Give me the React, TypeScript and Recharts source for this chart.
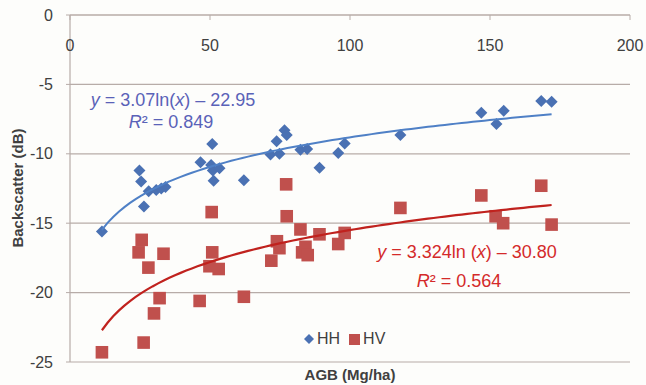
import React from 'react';
import { ComposedChart, Scatter, XAxis, YAxis, CartesianGrid, Legend, Customized } from 'recharts';

// ---- data ----
const hhAgb = [11.4, 24.8, 25.4, 26.4, 28.1, 30.8, 32.6, 34.1, 46.6, 50.8, 50.4, 51.0, 53.4, 51.3, 62.1, 71.6, 73.8, 74.8, 76.6, 77.4, 82.3, 84.7, 89.1, 95.8, 98.1, 118.0, 146.9, 152.3, 154.9, 168.3, 172.0];
const hhBackscatter = [-15.6, -11.2, -12.0, -13.8, -12.7, -12.6, -12.5, -12.4, -10.6, -9.3, -10.8, -11.2, -11.05, -11.95, -11.9, -10.05, -9.1, -10.0, -8.3, -8.65, -9.7, -9.65, -11.0, -9.95, -9.25, -8.65, -7.05, -7.85, -6.9, -6.2, -6.25];
const hvAgb = [11.4, 24.5, 25.6, 26.3, 28.0, 30.0, 32.0, 33.4, 46.3, 49.8, 50.6, 50.8, 53.1, 62.1, 71.9, 73.9, 74.8, 77.2, 77.4, 82.3, 82.9, 84.1, 84.9, 89.1, 95.8, 98.1, 118.0, 146.9, 152.0, 154.7, 168.3, 172.0];
const hvBackscatter = [-24.3, -17.1, -16.2, -23.6, -18.2, -21.5, -20.4, -17.2, -20.6, -18.1, -14.2, -17.1, -18.3, -20.3, -17.7, -16.3, -16.8, -12.2, -14.5, -15.45, -17.1, -16.7, -17.3, -15.8, -16.5, -15.7, -13.9, -13.0, -14.5, -15.0, -12.3, -15.1];
const xTicks = [0, 50, 100, 150, 200];
const yTicks = [0, -5, -10, -15, -20, -25];
// logarithmic trendlines as printed on the chart: y = a ln(x) + b
const hhFit = { a: 3.07, b: -22.95 };
const hvFit = { a: 3.324, b: -30.8 };
const fitStart = 11.4;
const fitEnd = 172;

const hhData = hhAgb.map((x, i) => ({ x, y: hhBackscatter[i] }));
const hvData = hvAgb.map((x, i) => ({ x, y: hvBackscatter[i] }));
const trend = (fit: { a: number; b: number }) => {
  const pts: { x: number; y: number }[] = [];
  const n = 80;
  for (let i = 0; i <= n; i++) {
    const x = fitStart + ((fitEnd - fitStart) * i) / n;
    pts.push({ x, y: fit.a * Math.log(x) + fit.b });
  }
  return pts;
};
const hhTrend = trend(hhFit);
const hvTrend = trend(hvFit);

const FONT = '"Liberation Sans", Arial, sans-serif';
const HH_COLOR = '#4a71b3';
const HV_COLOR = '#c0504d';
const GRID = '#b7aca8';
const TEXT = '#404040';

const Diamond = (props: any) => {
  const { cx, cy } = props;
  if (cx == null || cy == null) return <g />;
  const r = 6;
  return <path d={`M${cx},${cy - r}L${cx + r},${cy}L${cx},${cy + r}L${cx - r},${cy}Z`} fill={HH_COLOR} />;
};
const Square = (props: any) => {
  const { cx, cy } = props;
  if (cx == null || cy == null) return <g />;
  const h = 6.3;
  return <rect x={cx - h} y={cy - h} width={2 * h} height={2 * h} fill={HV_COLOR} />;
};
const NoDot = () => <g />;

const LegendContent = () => (
  <div style={{ display: 'flex', alignItems: 'center', fontFamily: FONT, fontSize: 16, color: TEXT, whiteSpace: 'nowrap' }}>
    <svg width={10} height={10} style={{ marginRight: 3 }}>
      <path d="M5,0L10,5L5,10L0,5Z" fill={HH_COLOR} />
    </svg>
    <span>HH</span>
    <svg width={11} height={11} style={{ marginLeft: 9, marginRight: 3 }}>
      <rect x={0} y={0} width={11} height={11} fill={HV_COLOR} />
    </svg>
    <span>HV</span>
  </div>
);

const Annotations = () => (
  <g fontFamily={FONT}>
    <text x={173} y={106} textAnchor="middle" fontSize={18} fill="#5a62b8">
      <tspan fontStyle="italic">y</tspan> = 3.07ln(<tspan fontStyle="italic">x</tspan>) – 22.95
    </text>
    <text x={171} y={128} textAnchor="middle" fontSize={18} fill="#5a62b8">
      <tspan fontStyle="italic">R</tspan>² = 0.849
    </text>
    <text x={467} y={258} textAnchor="middle" fontSize={18} fill="#d42a2a">
      <tspan fontStyle="italic">y</tspan> = 3.324ln (<tspan fontStyle="italic">x</tspan>) – 30.80
    </text>
    <text x={459} y={287} textAnchor="middle" fontSize={18} fill="#d42a2a">
      <tspan fontStyle="italic">R</tspan>² = 0.564
    </text>
    <text x={350} y={380} textAnchor="middle" fontSize={15} fontWeight="bold" fill={TEXT}>
      AGB (Mg/ha)
    </text>
    <text x={23} y={188} textAnchor="middle" fontSize={15} fontWeight="bold" fill={TEXT} transform="rotate(-90 23 188)">
      Backscatter (dB)
    </text>
  </g>
);

export default function App() {
  return (
    <div style={{ position: 'absolute', left: 0, top: 0, width: 646, height: 385, background: '#fdfdfb' }}>
      <ComposedChart width={646} height={385} margin={{ top: 15, right: 16, bottom: 23, left: 0 }}>
        <CartesianGrid horizontal={true} vertical={false} stroke={GRID} strokeWidth={1.2} />
        <XAxis
          type="number"
          dataKey="x"
          orientation="top"
          mirror
          domain={[0, 200]}
          ticks={xTicks}
          allowDataOverflow
          stroke={GRID}
          tickSize={5}
          tickMargin={20}
          tick={{ fill: TEXT, fontSize: 16, fontFamily: FONT }}
          axisLine={{ stroke: GRID, strokeWidth: 1.2 }}
          tickLine={{ stroke: GRID }}
        />
        <YAxis
          type="number"
          dataKey="y"
          domain={[-25, 0]}
          ticks={yTicks}
          width={70}
          allowDataOverflow
          stroke={GRID}
          tickSize={4}
          tickMargin={13}
          tick={{ fill: TEXT, fontSize: 16, fontFamily: FONT }}
          axisLine={{ stroke: GRID, strokeWidth: 1.2 }}
          tickLine={{ stroke: GRID }}
        />
        <Scatter name="HH" data={hhData} shape={Diamond} isAnimationActive={false} />
        <Scatter name="HV" data={hvData} shape={Square} isAnimationActive={false} />
        <Scatter name="HH trend" data={hhTrend} shape={NoDot} line={{ stroke: '#4f80c6', strokeWidth: 2 }} isAnimationActive={false} legendType="none" />
        <Scatter name="HV trend" data={hvTrend} shape={NoDot} line={{ stroke: '#c0221e', strokeWidth: 2.2 }} isAnimationActive={false} legendType="none" />
        <Legend layout="horizontal" verticalAlign="middle" align="center" wrapperStyle={{ left: 304, top: 330, width: 'auto' }} content={LegendContent} />
        <Customized component={Annotations} />
      </ComposedChart>
    </div>
  );
}
